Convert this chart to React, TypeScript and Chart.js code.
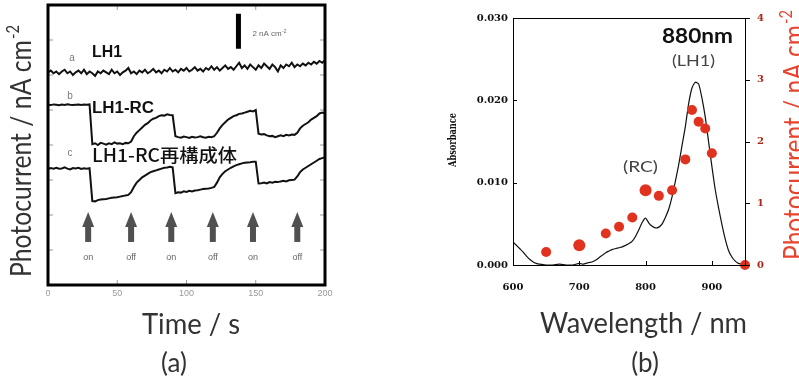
import React, { useEffect, useRef } from "react";
import { Chart, registerables } from "chart.js";

Chart.register(...registerables);

// ---------------- Panel (a): photocurrent vs time ----------------
const TIME_S = [
  0, 2, 4, 6, 8, 10, 12, 14, 16, 18, 20, 22, 24, 26, 28, 30, 32, 34, 36, 38,
  40, 42, 44, 46, 48, 50, 52, 54, 56, 58, 60, 62, 64, 66, 68, 70, 72, 74, 76, 78,
  80, 82, 84, 86, 88, 90, 92, 94, 96, 98, 100, 102, 104, 106, 108, 110, 112, 114, 116, 118,
  120, 122, 124, 126, 128, 130, 132, 134, 136, 138, 140, 142, 144, 146, 148, 150, 152, 154, 156, 158,
  160, 162, 164, 166, 168, 170, 172, 174, 176, 178, 180, 182, 184, 186, 188, 190, 192, 194, 196, 198, 200,
];

// trace a: LH1 (nA cm-2, offset)
const TRACE_LH1 = [
  12.15, 12.25, 12.1, 12.2, 12.05, 12.2, 12.3, 12.1, 12.2, 12.0, 12.15, 12.25, 12.1, 12.3, 12.05, 12.2, 12.1, 11.95, 12.2, 12.1,
  12.25, 12.15, 12.05, 12.3, 12.1, 12.2, 12.0, 12.15, 12.25, 12.4, 12.1, 12.2, 12.05, 12.25, 12.15, 12.3, 12.1, 12.2, 12.35, 12.15,
  12.25, 12.1, 12.3, 12.2, 12.4, 12.2, 12.3, 12.15, 12.35, 12.25, 12.4, 12.2, 12.3, 12.45, 12.25, 12.35, 12.2, 12.4, 12.3, 12.5,
  12.3, 12.45, 12.25, 12.4, 12.55, 12.35, 12.45, 12.3, 12.5, 12.7, 12.4, 12.55, 12.35, 12.6, 12.45, 12.3, 12.55, 12.4, 12.65, 12.5,
  12.35, 12.6, 12.45, 12.2, 12.55, 12.4, 12.6, 12.5, 12.7, 12.45, 12.6, 12.5, 12.65, 12.55, 12.7, 12.6, 12.75, 12.65, 12.8, 12.7, 12.85,
];

// trace b: LH1-RC
const TRACE_LH1_RC = [
  10.3, 10.28, 10.32, 10.3, 10.27, 10.31, 10.29, 10.33, 10.3, 10.28, 10.3, 10.32, 10.29, 10.31, 10.3, 10.32,
  8.05, 8.1, 8.0, 8.12, 8.08, 8.02, 8.1, 8.05, 8.15, 8.08, 8.1, 8.05, 8.12, 8.1,
  8.2, 8.5, 8.7, 8.85, 9.0, 9.15, 9.25, 9.4, 9.5, 9.55, 9.65, 9.7, 9.68, 9.75, 9.72,
  9.7,
  8.5, 8.45, 8.42, 8.48, 8.45, 8.4, 8.47, 8.43, 8.45, 8.5, 8.44, 8.42, 8.47, 8.45, 8.5,
  8.7, 8.95, 9.15, 9.3, 9.45, 9.55, 9.65, 9.7, 9.78, 9.8, 9.85, 9.9, 9.95, 9.92, 10.0,
  8.65, 8.6, 8.62, 8.55, 8.5, 8.52, 8.45, 8.5, 8.55, 8.5, 8.58, 8.55, 8.6, 8.58,
  8.7, 8.95, 9.1, 9.2, 9.3, 9.45, 9.55, 9.65, 9.8, 9.85, 9.8,
];

// trace c: reconstituted LH1-RC
const TRACE_RECON = [
  6.62, 6.68, 6.65, 6.7, 6.64, 6.66, 6.72, 6.65, 6.6, 6.68, 6.66, 6.7, 6.63, 6.67, 6.65, 6.68,
  4.8, 4.78, 4.85, 4.88, 4.9, 4.92, 4.95, 4.98, 5.0, 5.02, 5.05, 5.08, 5.12, 5.15,
  5.3, 5.6, 5.85, 6.0, 6.15, 6.25, 6.35, 6.45, 6.5, 6.55, 6.6, 6.65, 6.7, 6.72, 6.75,
  6.72,
  5.25, 5.3, 5.28, 5.35, 5.32, 5.38, 5.35, 5.4, 5.42, 5.45, 5.48, 5.5, 5.52, 5.55, 5.6,
  5.85, 6.15, 6.35, 6.5, 6.6, 6.7, 6.78, 6.85, 6.9, 6.95, 6.98, 7.0, 7.02, 7.05, 7.05,
  5.8, 5.82, 5.85, 5.8, 5.88, 5.85, 5.9, 5.88, 5.92, 5.95, 5.92, 5.98, 6.0, 6.02,
  6.2, 6.45, 6.6, 6.7, 6.8, 6.9, 7.0, 7.1, 7.2, 7.25, 7.3,
];

const ARROW_TIMES = [29, 60, 89, 119, 148, 180];
const ARROW_LABELS = ["on", "off", "on", "off", "on", "off"];
const ARROW_TIP = 4.17;
const ARROW_BASE = 2.46;
const ARROW_LABEL_Y = 1.55;
const SCALE_BAR_T = 137.5;
const SCALE_BAR_FROM = 13.5;
const SCALE_BAR_TO = 15.5;
const TIME_TICKS = [0, 50, 100, 150, 200];

// ---------------- Panel (b): absorbance & action spectrum ----------------
const ABS_WL = [
  600, 605, 610, 615, 620, 625, 630, 635, 640, 650, 660, 670, 680, 690, 700, 705, 710, 715, 720, 725,
  730, 735, 740, 745, 750, 755, 760, 765, 770, 775, 780, 785, 790, 795, 800, 805, 810, 815, 820, 825,
  830, 835, 840, 845, 850, 855, 860, 865, 870, 875, 880, 885, 890, 895, 900, 905, 910, 915, 920, 925,
  930, 935, 940, 945, 950,
];
const ABS_VAL = [
  0.0028, 0.0024, 0.002, 0.0016, 0.0011, 0.0007, 0.0004, 0.0002, 0.0001, 0.0, 0.0, 0.0001, 0.0, 0.0, 0.0002, 0.0001, 0.0002, 0.0003, 0.0004, 0.0006,
  0.0009, 0.0012, 0.0015, 0.0017, 0.0019, 0.002, 0.0021, 0.0022, 0.0024, 0.0026, 0.0029, 0.0035, 0.0043, 0.0052, 0.0057, 0.0051, 0.0047, 0.0045, 0.0046, 0.005,
  0.0058, 0.0068, 0.0083, 0.0102, 0.0122, 0.0145, 0.0168, 0.0196, 0.0215, 0.0222, 0.022, 0.0203, 0.018, 0.015, 0.012, 0.0092, 0.007, 0.005, 0.0032, 0.0018,
  0.001, 0.0005, 0.0002, 0.0001, 0.0,
];
const PC_WL = [650, 700, 740, 760, 780, 800, 820, 840, 860, 870, 880, 890, 900, 950];
const PC_VAL = [0.21, 0.32, 0.51, 0.62, 0.77, 1.21, 1.12, 1.21, 1.71, 2.51, 2.32, 2.21, 1.81, 0];
const WL_TICKS = [600, 700, 800, 900];

// ---------------- helpers ----------------
const SANS = 'Lato, "Open Sans", sans-serif';
const SERIF = '"DejaVu Serif", serif';

type TextOpts = {
  size: number;
  width?: number;
  weight?: string;
  family: string;
  color: string;
  align?: "left" | "center";
  rotate?: boolean;
};

function drawText(ctx: CanvasRenderingContext2D, main: string, sup: string, x: number, y: number, o: TextOpts) {
  const weight = o.weight ?? "400";
  ctx.save();
  ctx.font = `${weight} ${o.size}px ${o.family}`;
  const mw = ctx.measureText(main).width;
  let sw = 0;
  if (sup) {
    ctx.font = `${weight} ${o.size * 0.6}px ${o.family}`;
    sw = ctx.measureText(sup).width + o.size * 0.04;
  }
  const total = mw + sw;
  const sx = o.width ? o.width / total : 1;
  ctx.translate(x, y);
  if (o.rotate) ctx.rotate(-Math.PI / 2);
  ctx.scale(sx, 1);
  ctx.fillStyle = o.color;
  ctx.textBaseline = "alphabetic";
  ctx.textAlign = "left";
  const start = o.align === "left" ? 0 : -total / 2;
  ctx.font = `${weight} ${o.size}px ${o.family}`;
  ctx.fillText(main, start, 0);
  if (sup) {
    ctx.font = `${weight} ${o.size * 0.6}px ${o.family}`;
    ctx.fillText(sup, start + mw + o.size * 0.04, -o.size * 0.42);
  }
  ctx.restore();
}

function seg(ctx: CanvasRenderingContext2D, x1: number, y1: number, x2: number, y2: number) {
  ctx.beginPath();
  ctx.moveTo(x1, y1);
  ctx.lineTo(x2, y2);
  ctx.stroke();
}

const panelAPlugin = {
  id: "panelA",
  afterDraw(chart: any) {
    const { ctx, chartArea: ca } = chart;
    const xs = chart.scales.x;
    const ys = chart.scales.y;
    ctx.save();
    // inner tick marks
    ctx.strokeStyle = "#9a9a9a";
    ctx.lineWidth = 1;
    ys.ticks.forEach((t: any) => {
      if (t.value <= ys.min || t.value >= ys.max) return;
      const py = ys.getPixelForValue(t.value);
      seg(ctx, ca.left, py, ca.left + 5, py);
      seg(ctx, ca.right - 5, py, ca.right, py);
    });
    TIME_TICKS.slice(1, -1).forEach((t) => {
      const px = xs.getPixelForValue(t);
      seg(ctx, px, ca.bottom, px, ca.bottom - 5);
      seg(ctx, px, ca.top, px, ca.top + 5);
    });
    // frame
    ctx.strokeStyle = "#000";
    ctx.lineWidth = 3;
    ctx.strokeRect(ca.left, ca.top, ca.right - ca.left, ca.bottom - ca.top);

    // arrows
    ARROW_TIMES.forEach((t, i) => {
      const px = xs.getPixelForValue(t);
      const tip = ys.getPixelForValue(ARROW_TIP);
      const base = ys.getPixelForValue(ARROW_BASE);
      const headH = 15;
      ctx.fillStyle = "#505050";
      ctx.fillRect(px - 3, tip + headH - 1, 6, base - tip - headH + 1);
      ctx.beginPath();
      ctx.moveTo(px, tip);
      ctx.lineTo(px - 6, tip + headH);
      ctx.lineTo(px + 6, tip + headH);
      ctx.closePath();
      ctx.fill();
      ctx.font = `9px "Liberation Sans", Arial, sans-serif`;
      ctx.textAlign = "center";
      ctx.textBaseline = "middle";
      ctx.fillStyle = "#666";
      ctx.fillText(ARROW_LABELS[i], px, ys.getPixelForValue(ARROW_LABEL_Y));
    });

    // scale bar
    const bx = xs.getPixelForValue(SCALE_BAR_T);
    ctx.fillStyle = "#000";
    const bTop = ys.getPixelForValue(SCALE_BAR_TO);
    const bBot = ys.getPixelForValue(SCALE_BAR_FROM);
    ctx.fillRect(bx - 2.5, bTop, 5, bBot - bTop);
    drawText(ctx, "2 nA cm", "-2", bx + 14, 36, {
      size: 8, family: '"Liberation Sans", Arial, sans-serif', color: "#666", align: "left",
    });

    // trace letters
    ctx.font = `10px "Liberation Sans", Arial, sans-serif`;
    ctx.fillStyle = "#7a7a7a";
    ctx.textAlign = "center";
    ctx.textBaseline = "middle";
    ctx.fillText("a", 72, 58);
    ctx.fillText("b", 70, 96);
    ctx.fillText("c", 70, 153);

    // trace names
    drawText(ctx, "LH1", "", 92, 57, {
      size: 16, weight: "700", family: '"Liberation Sans", Arial, sans-serif', color: "#111", align: "left", width: 30,
    });
    drawText(ctx, "LH1-RC", "", 92, 113, {
      size: 16, weight: "700", family: '"Liberation Sans", Arial, sans-serif', color: "#111", align: "left", width: 62,
    });
    drawText(ctx, "LH1-RC再構成体", "", 92, 162, {
      size: 18, weight: "500", family: '"Noto Sans CJK JP", "Noto Sans CJK SC", sans-serif', color: "#111", align: "left", width: 145,
    });

    // axis titles
    drawText(ctx, "Photocurrent / nA cm", "-2", 31, 151, {
      size: 28, family: SANS, color: "#333", rotate: true, width: 252,
    });
    drawText(ctx, "Time / s", "", 191, 334, { size: 28, family: SANS, color: "#333", width: 98 });
    drawText(ctx, "(a)", "", 174, 372, { size: 26, family: SANS, color: "#333" });
    ctx.restore();
  },
};

const panelBPlugin = {
  id: "panelB",
  afterDraw(chart: any) {
    const { ctx, chartArea: ca } = chart;
    const xs = chart.scales.x;
    const ys = chart.scales.y;
    const y1 = chart.scales.y1;
    ctx.save();
    ctx.strokeStyle = "#000";
    ctx.lineWidth = 1;
    ctx.strokeRect(ca.left + 0.5, ca.top + 0.5, ca.right - ca.left, ca.bottom - ca.top);
    ys.ticks.forEach((t: any) => {
      if (t.value <= ys.min || t.value >= ys.max - 1e-9) return;
      const py = Math.round(ys.getPixelForValue(t.value)) + 0.5;
      seg(ctx, ca.left, py, ca.left + 4, py);
    });
    WL_TICKS.slice(1).forEach((w) => {
      const px = Math.round(xs.getPixelForValue(w)) + 0.5;
      seg(ctx, px, ca.bottom, px, ca.bottom - 4);
    });
    y1.ticks.forEach((t: any) => {
      const py = Math.round(y1.getPixelForValue(t.value)) + 0.5;
      seg(ctx, ca.right, py, ca.right + 5, py);
    });

    drawText(ctx, "Absorbance", "", 16, 140, {
      size: 11, weight: "700", family: SERIF, color: "#111", rotate: true, width: 54,
    });
    drawText(ctx, "Photocurrent / nA cm", "-2", 364, 135, {
      size: 28, family: SANS, color: "#e5452f", rotate: true, width: 250,
    });
    drawText(ctx, "880nm", "", 257.5, 43, { size: 21, weight: "700", family: SANS, color: "#111", width: 71 });
    drawText(ctx, "(LH1)", "", 253.5, 66, { size: 16, family: SANS, color: "#444", width: 43 });
    drawText(ctx, "(RC)", "", 200.5, 172, { size: 16, family: SANS, color: "#444", width: 35 });
    drawText(ctx, "Wavelength / nm", "", 203.5, 333, { size: 28, family: SANS, color: "#333", width: 207 });
    drawText(ctx, "(b)", "", 205, 372, { size: 26, family: SANS, color: "#333" });
    ctx.restore();
  },
};

export default function App() {
  const refA = useRef<HTMLCanvasElement>(null);
  const refB = useRef<HTMLCanvasElement>(null);

  useEffect(() => {
    const traceStyle = { borderColor: "#111", borderWidth: 2, pointRadius: 0, tension: 0, fill: false };
    const chartA = new Chart(refA.current as HTMLCanvasElement, {
      type: "line",
      data: {
        datasets: [
          { label: "LH1", data: TIME_S.map((t, i) => ({ x: t, y: TRACE_LH1[i] })), ...traceStyle },
          { label: "LH1-RC", data: TIME_S.map((t, i) => ({ x: t, y: TRACE_LH1_RC[i] })), ...traceStyle },
          { label: "LH1-RC再構成体", data: TIME_S.map((t, i) => ({ x: t, y: TRACE_RECON[i] })), ...traceStyle },
        ],
      },
      options: {
        responsive: false,
        animation: false,
        devicePixelRatio: 1,
        layout: { padding: { left: 0, right: 15, top: 5, bottom: 0 } },
        plugins: { legend: { display: false }, tooltip: { enabled: false } },
        scales: {
          x: {
            type: "linear",
            min: 0,
            max: 200,
            afterBuildTicks: (s: any) => { s.ticks = TIME_TICKS.map((v) => ({ value: v })); },
            ticks: { font: { size: 9, family: '"Liberation Sans", Arial, sans-serif' }, color: "#999", padding: 3, maxRotation: 0 },
            grid: { display: false, drawTicks: false },
            border: { display: false },
            afterFit: (s: any) => { s.height = 100; },
          },
          y: {
            type: "linear",
            min: 0,
            max: 16,
            ticks: { display: false, stepSize: 2 },
            grid: { display: false, drawTicks: false },
            border: { display: false },
            afterFit: (s: any) => { s.width = 48; },
          },
        },
      } as any,
      plugins: [panelAPlugin],
    });

    const chartB = new Chart(refB.current as HTMLCanvasElement, {
      type: "line",
      data: {
        datasets: [
          {
            label: "Absorbance",
            data: ABS_WL.map((w, i) => ({ x: w, y: ABS_VAL[i] })),
            yAxisID: "y",
            borderColor: "#111",
            borderWidth: 1.2,
            pointRadius: 0,
            tension: 0.2,
            order: 2,
          },
          {
            label: "Photocurrent",
            data: PC_WL.map((w, i) => ({ x: w, y: PC_VAL[i] })),
            yAxisID: "y1",
            showLine: false,
            pointRadius: (c: any) => (c.dataIndex === 1 || c.dataIndex === 5 ? 6 : 5),
            pointBackgroundColor: "#e0321f",
            pointBorderColor: "#e0321f",
            pointBorderWidth: 0,
            clip: 10,
            order: 1,
          },
        ],
      },
      options: {
        responsive: false,
        animation: false,
        devicePixelRatio: 1,
        layout: { padding: { left: 0, right: 0, top: 15, bottom: 0 } },
        plugins: { legend: { display: false }, tooltip: { enabled: false } },
        scales: {
          x: {
            type: "linear",
            min: 600,
            max: 950,
            afterBuildTicks: (s: any) => { s.ticks = WL_TICKS.map((v) => ({ value: v })); },
            ticks: { font: { size: 10, weight: "bold", family: SERIF }, color: "#111", padding: 16, maxRotation: 0 },
            grid: { display: false, drawTicks: false },
            border: { display: false },
            afterFit: (s: any) => { s.height = 120; },
          },
          y: {
            type: "linear",
            position: "left",
            min: 0,
            max: 0.03,
            ticks: {
              stepSize: 0.01,
              font: { size: 10, weight: "bold", family: SERIF },
              color: "#111",
              padding: 5,
              callback: (v: any) => Number(v).toFixed(3),
            },
            grid: { display: false, drawTicks: false },
            border: { display: false },
            afterFit: (s: any) => { s.width = 73; },
          },
          y1: {
            type: "linear",
            position: "right",
            min: 0,
            max: 4,
            ticks: { stepSize: 1, font: { size: 10, weight: "bold", family: SERIF }, color: "#a8281c", padding: 12 },
            grid: { display: false, drawTicks: false },
            border: { display: false },
            afterFit: (s: any) => { s.width = 54; },
          },
        },
      } as any,
      plugins: [panelBPlugin],
    });

    return () => {
      chartA.destroy();
      chartB.destroy();
    };
  }, []);

  return (
    <div style={{ position: "absolute", left: 0, top: 0, width: 799, height: 385, background: "#fff", overflow: "hidden" }}>
      <canvas ref={refA} width={340} height={385} style={{ position: "absolute", left: 0, top: 0, width: 340, height: 385 }} />
      <canvas ref={refB} width={359} height={385} style={{ position: "absolute", left: 440, top: 0, width: 359, height: 385 }} />
    </div>
  );
}
